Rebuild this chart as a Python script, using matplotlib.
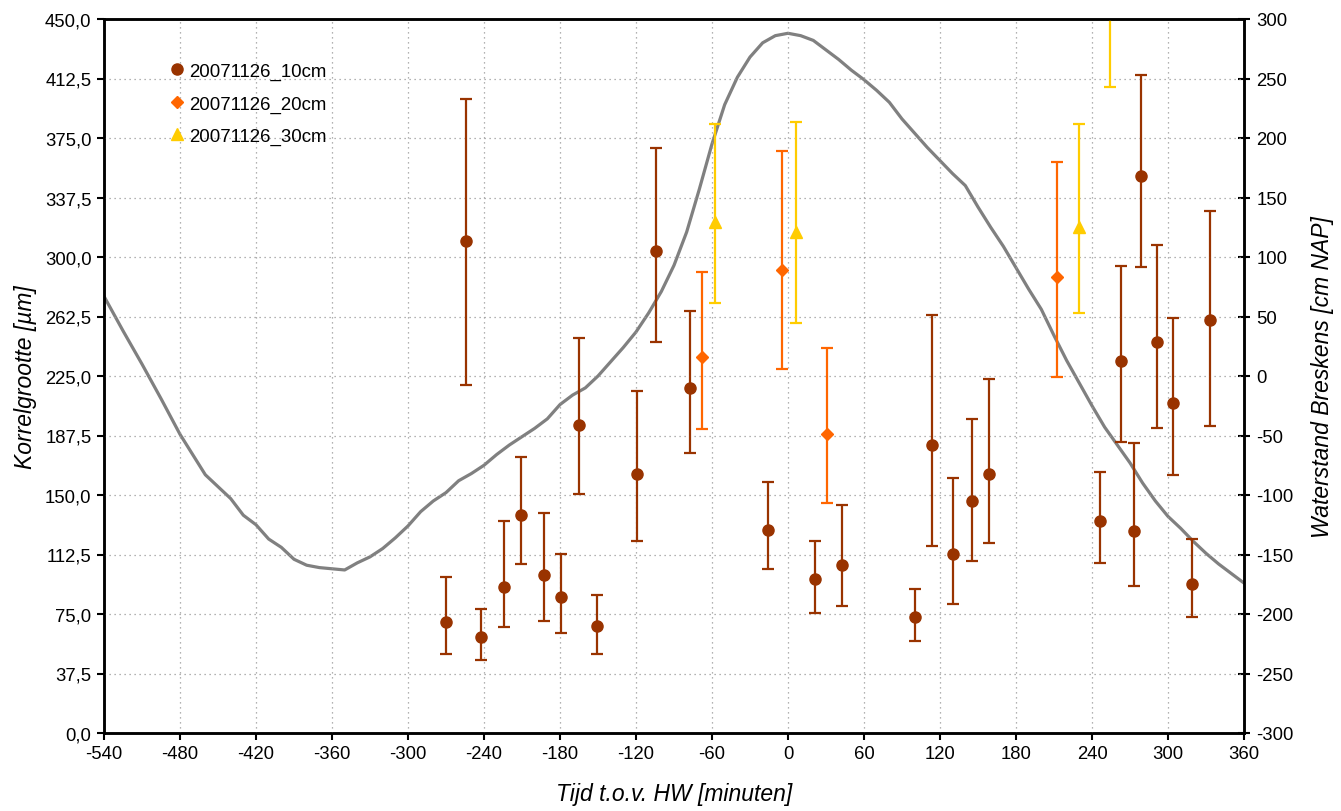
import matplotlib
matplotlib.use('Agg')
import matplotlib.pyplot as plt
from matplotlib.lines import Line2D
from matplotlib.ticker import FuncFormatter, MultipleLocator

plt.rcParams['font.family'] = ['Liberation Sans', 'DejaVu Sans']
plt.rcParams['axes.unicode_minus'] = False

# grain size 10 cm: time, mean, upper, lower
t10 = [-270, -254, -242, -224, -211, -193, -179, -165, -151, -119, -104, -77, -16,
       21, 43, 100, 114, 130, 145, 159, 246, 263, 273, 279, 291, 304, 319, 333]
y10 = [69.8, 310.0, 60.7, 92.2, 137.6, 99.6, 85.5, 194.1, 67.2, 163.0, 303.6, 217.4, 128.1,
       96.8, 106.0, 73.1, 181.5, 112.8, 146.2, 163.2, 133.6, 234.4, 127.3, 351.0, 246.2, 208.0, 94.1, 260.3]
hi10 = [98.5, 399.6, 78.4, 133.8, 174.1, 138.8, 113.0, 249.2, 87.2, 215.5, 368.7, 266.0, 158.2,
        121.0, 143.7, 90.8, 263.4, 160.7, 197.9, 223.0, 164.5, 294.3, 183.0, 414.7, 307.6, 261.5, 122.3, 329.0]
lo10 = [50.0, 219.5, 46.0, 67.0, 106.7, 70.8, 63.2, 150.8, 50.0, 121.2, 246.6, 176.5, 103.6,
        75.6, 80.0, 58.0, 118.0, 81.3, 108.4, 119.7, 107.3, 183.4, 92.6, 293.9, 192.2, 162.6, 73.1, 193.5]

# 20 cm
t20 = [-68, -5, 31, 212]
y20 = [237.2, 291.6, 188.4, 287.6]
hi20 = [290.8, 366.8, 242.6, 359.9]
lo20 = [191.8, 229.6, 145.0, 224.6]

# 30 cm
t30 = [-58, 6, 230, 254]
y30 = [322.2, 315.5, 319.0, 480.0]
hi30 = [383.8, 385.0, 383.8, 530.0]
lo30 = [271.0, 258.4, 264.9, 407.3]

# water level Breskens [cm NAP]
tw = [-540, -525, -510, -495, -480, -460, -440, -430, -420, -410, -400, -390, -380, -370,
      -360, -350, -340, -330, -320, -310, -300, -290, -280, -270, -260, -250, -240, -230,
      -220, -210, -200, -190, -180, -170, -160, -150, -140, -130, -120, -110, -100, -90,
      -80, -70, -60, -50, -40, -30, -20, -10, 0, 10, 20, 30, 40, 50, 60, 70, 80, 90, 100,
      110, 120, 130, 140, 150, 160, 170, 180, 190, 200, 210, 220, 230, 240, 250, 260, 270,
      280, 290, 300, 310, 320, 330, 340, 350, 360]
hw = [67, 38, 10, -19, -49, -83, -103, -117, -125, -137, -144, -154, -159, -161,
      -162, -163, -157, -152, -145, -136, -126, -114, -105, -98, -88, -82, -75, -66,
      -58, -51, -44, -36, -24, -16, -10, 0, 12, 24, 37, 53, 71, 93,
      121, 157, 195, 228, 251, 268, 280, 286, 288, 286, 282, 274, 266, 257, 249, 240, 230, 216, 204,
      192, 181, 170, 160, 142, 125, 109, 91, 73, 56, 34, 13, -6, -25, -43, -58, -73,
      -90, -105, -118, -128, -139, -149, -158, -166, -174]

labels = ['20071126_10cm', '20071126_20cm', '20071126_30cm']
c10, c20, c30 = '#993300', '#FF6600', '#FFCC00'

W, H = 1341, 812
fig = plt.figure(figsize=(W / 100, H / 100), dpi=100, facecolor='white')
rect = [104 / W, 1 - 734 / H, (1244 - 104) / W, (734 - 20) / H]
ax2 = fig.add_axes(rect)
ax = fig.add_axes(rect, sharex=ax2)
ax.patch.set_visible(False)
ax2.plot(tw, hw, color='#808080', lw=2.3, solid_joinstyle='round')

def errs(y, hi, lo):
    return [[a - b for a, b in zip(y, lo)], [b - a for a, b in zip(y, hi)]]

kw = dict(ls='none', elinewidth=1.6, capsize=4.5, capthick=1.6)
ax.errorbar(t10, y10, yerr=errs(y10, hi10, lo10), fmt='o', color=c10, ms=8, **kw)
ax.errorbar(t20, y20, yerr=errs(y20, hi20, lo20), fmt='D', color=c20, ms=6, **kw)
ax.errorbar(t30, y30, yerr=errs(y30, hi30, lo30), fmt='^', color=c30, ms=8, **kw)

ax.set_xlim(-540, 360)
ax.set_ylim(0, 450)
ax2.set_ylim(-300, 300)
ax.xaxis.set_major_locator(MultipleLocator(60))
ax.yaxis.set_major_locator(MultipleLocator(37.5))
ax2.yaxis.set_major_locator(MultipleLocator(50))
ax.yaxis.set_major_formatter(FuncFormatter(lambda v, p: ('%.1f' % v).replace('.', ',')))
ax2.yaxis.tick_right()
ax2.yaxis.set_label_position('right')
ax2.tick_params(axis='x', bottom=False, labelbottom=False)

ax.grid(True, color='#999999', ls=(0, (1, 3)), lw=0.9)
for a in (ax, ax2):
    for s in a.spines.values():
        s.set_linewidth(1.8)
        s.set_color('black')
ax.tick_params(axis='both', direction='out', length=5, width=1.5, labelsize=13.3, pad=4)
ax2.tick_params(axis='y', direction='inout', length=8, width=1.5, labelsize=13.3, pad=5)

ax.set_xlabel('Tijd t.o.v. HW [minuten]', fontsize=16.5, style='italic', labelpad=14)
ax.set_ylabel('Korrelgrootte [µm]', fontsize=16.5, style='italic', labelpad=6)
ax2.set_ylabel('Waterstand Breskens [cm NAP]', fontsize=16.5, style='italic', labelpad=12)

handles = [Line2D([], [], ls='none', marker='o', ms=8, color=c10),
           Line2D([], [], ls='none', marker='D', ms=6, color=c20),
           Line2D([], [], ls='none', marker='^', ms=8, color=c30)]
ax.legend(handles, labels, loc='upper left', bbox_to_anchor=(0.052, 0.949), frameon=False,
          fontsize=13.4, handlelength=0.7, handletextpad=0.3, labelspacing=0.82, borderaxespad=0)

fig.savefig('out.png', dpi=100)
